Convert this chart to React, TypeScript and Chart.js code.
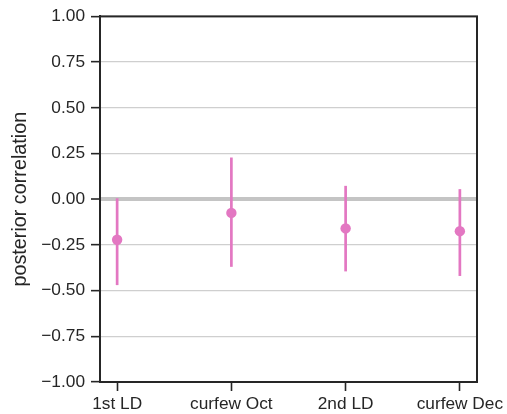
import React, { useEffect, useRef } from "react";
import { Chart, registerables } from "chart.js";

Chart.register(...registerables);

const categories = ["1st LD", "curfew Oct", "2nd LD", "curfew Dec"];
const means = [-0.222, -0.075, -0.16, -0.175];
const lowers = [-0.47, -0.37, -0.395, -0.42];
const uppers = [0.005, 0.228, 0.073, 0.055];
const yTickValues = [-1, -0.75, -0.5, -0.25, 0, 0.25, 0.5, 0.75, 1];

const PINK = "#e377c2";
const DARK = "#262626";
const FONT = "'Liberation Sans', Arial, sans-serif";

const errorBarPlugin = {
  id: "errorBars",
  beforeDatasetsDraw(chart: any) {
    const { ctx, scales } = chart;
    const xs = scales.x;
    const ys = scales.y;
    ctx.save();
    ctx.strokeStyle = PINK;
    ctx.lineWidth = 2.7;
    ctx.lineCap = "butt";
    categories.forEach((_, i) => {
      const x = xs.getPixelForValue(i);
      ctx.beginPath();
      ctx.moveTo(x, ys.getPixelForValue(lowers[i]));
      ctx.lineTo(x, ys.getPixelForValue(uppers[i]));
      ctx.stroke();
    });
    ctx.restore();
  },
};

const framePlugin = {
  id: "frame",
  afterDraw(chart: any) {
    const { ctx, chartArea } = chart;
    ctx.save();
    ctx.strokeStyle = DARK;
    ctx.lineWidth = 2;
    ctx.strokeRect(
      chartArea.left,
      chartArea.top,
      chartArea.right - chartArea.left,
      chartArea.bottom - chartArea.top
    );
    ctx.restore();
  },
};

export default function App() {
  const ref = useRef<HTMLCanvasElement>(null);

  useEffect(() => {
    document.body.style.margin = "0";
    const canvas = ref.current!;
    const chart = new Chart(canvas, {
      type: "scatter",
      data: {
        datasets: [
          {
            data: means.map((m, i) => ({ x: i, y: m })),
            backgroundColor: PINK,
            borderColor: PINK,
            pointRadius: 5.2,
            pointHoverRadius: 5.2,
            borderWidth: 0,
          },
        ],
      },
      options: {
        animation: false,
        responsive: false,
        devicePixelRatio: 1,
        layout: { padding: { top: 15, right: 30, left: 0, bottom: 0 } },
        plugins: {
          legend: { display: false },
          tooltip: { enabled: false },
        },
        scales: {
          x: {
            type: "linear",
            min: -0.15,
            max: 3.15,
            afterBuildTicks: (scale: any) => {
              scale.ticks = categories.map((_, i) => ({ value: i }));
            },
            afterFit: (scale: any) => {
              scale.height = 32;
              scale.paddingLeft = 0;
              scale.paddingRight = 0;
            },
            grid: {
              drawOnChartArea: false,
              drawTicks: true,
              tickLength: 9,
              tickColor: DARK,
              tickWidth: 1.6,
            },
            border: { display: true, color: DARK, width: 2 },
            ticks: {
              autoSkip: false,
              maxRotation: 0,
              minRotation: 0,
              padding: 3,
              color: DARK,
              font: { family: FONT, size: 17.3 },
              callback: (v: any) => categories[Math.round(Number(v))] ?? "",
            },
          },
          y: {
            min: -1,
            max: 1,
            afterBuildTicks: (scale: any) => {
              scale.ticks = yTickValues.map((v) => ({ value: v }));
            },
            afterFit: (scale: any) => {
              scale.width = 100;
            },
            grid: {
              drawTicks: true,
              tickLength: 9,
              tickColor: DARK,
              tickWidth: 1.6,
              color: (c: any) =>
                c.tick && c.tick.value === 0 ? "#c4c4c4" : "#cfcfcf",
              lineWidth: (c: any) =>
                c.tick && c.tick.value === 0 ? 4 : 1.3,
            },
            border: { display: true, color: DARK, width: 2 },
            ticks: {
              padding: 6,
              color: DARK,
              font: { family: FONT, size: 17.3 },
              callback: (v: any) =>
                Number(v).toFixed(2).replace("-", "\u2212"),
            },
            title: {
              display: true,
              text: "posterior correlation",
              color: DARK,
              font: { family: FONT, size: 19.8, lineHeight: 1 },
              padding: { top: 11, bottom: 0 },
            },
          },
        },
      },
      plugins: [errorBarPlugin, framePlugin],
    });
    return () => chart.destroy();
  }, []);

  return (
    <div style={{ width: 507, height: 414 }}>
      <canvas ref={ref} width={507} height={414} style={{ display: "block" }} />
    </div>
  );
}
